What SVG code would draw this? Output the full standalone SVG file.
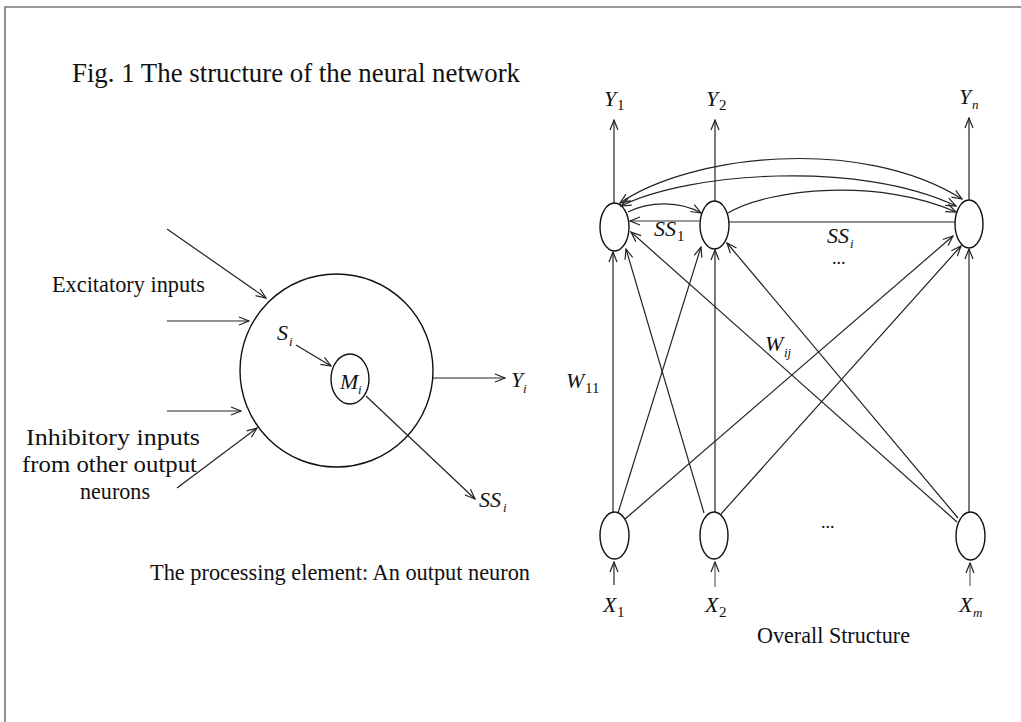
<svg xmlns="http://www.w3.org/2000/svg" width="1021" height="722" viewBox="0 0 1021 722">
<style>
.ln{stroke:#222;stroke-width:1.2;fill:none}
.gr{stroke:#777;stroke-width:1.4;fill:none}
.nd{stroke:#111;stroke-width:1.4;fill:#fff}
.t{font-family:"Liberation Serif","Times New Roman",serif;fill:#111}
.it{font-family:"Liberation Serif","Times New Roman",serif;font-style:italic;fill:#111;font-size:22px}
.si{font-family:"Liberation Serif","Times New Roman",serif;font-style:italic;fill:#111;font-size:13px}
.su{font-family:"Liberation Serif","Times New Roman",serif;font-style:normal;fill:#111;font-size:15px}
</style>
<defs>
<marker id="arr" viewBox="0 0 12 10" refX="11" refY="5" markerWidth="12" markerHeight="10" orient="auto-start-reverse" markerUnits="userSpaceOnUse">
<path d="M1,1 L11,5 L1,9" fill="none" stroke="#222" stroke-width="1.2"/>
</marker>
</defs>
<rect width="1021" height="722" fill="#fff"/>
<path d="M5,722 V7 H1021" fill="none" stroke="#777" stroke-width="1.6"/>

<text class="t" x="72" y="82" font-size="28" textLength="448" lengthAdjust="spacingAndGlyphs">Fig. 1 The structure of the neural network</text>

<!-- left: processing element -->
<g id="neuron-outer"><circle class="nd" cx="336.5" cy="370.5" r="96.5"/></g>
<g id="neuron-inner"><ellipse class="nd" cx="350" cy="379" rx="19" ry="25"/>
<text class="it" x="340" y="389">M</text><text class="si" x="358" y="394">i</text></g>
<g id="labels-left">
<text class="t" x="52" y="292" font-size="23" textLength="153" lengthAdjust="spacingAndGlyphs">Excitatory inputs</text>
<text class="t" x="26" y="445" font-size="23" textLength="174" lengthAdjust="spacingAndGlyphs">Inhibitory inputs</text>
<text class="t" x="22" y="472" font-size="23" textLength="175" lengthAdjust="spacingAndGlyphs">from other output</text>
<text class="t" x="80" y="499" font-size="23" textLength="70" lengthAdjust="spacingAndGlyphs">neurons</text>
<text class="it" x="277" y="340">S</text><text class="si" x="289" y="346">i</text>
<text class="it" x="511" y="387">Y</text><text class="si" x="523" y="393">i</text>
<text class="it" x="479" y="507">SS</text><text class="si" x="503" y="512">i</text>
<text class="t" x="150" y="580" font-size="23" textLength="380" lengthAdjust="spacingAndGlyphs">The processing element: An output neuron</text>
</g>

<!-- right: network nodes -->
<g id="N1"><ellipse class="nd" cx="614.5" cy="227" rx="14.5" ry="24"/></g>
<g id="N2"><ellipse class="nd" cx="714.5" cy="225" rx="14.5" ry="24"/></g>
<g id="Nn"><ellipse class="nd" cx="969" cy="224" rx="14" ry="24"/></g>
<g id="B1"><ellipse class="nd" cx="614.5" cy="535.5" rx="14.5" ry="23.5"/></g>
<g id="B2"><ellipse class="nd" cx="714" cy="535.5" rx="14" ry="23.5"/></g>
<g id="Bm"><ellipse class="nd" cx="970.5" cy="536" rx="14.5" ry="24"/></g>

<g id="labels-right">
<text class="it" x="604" y="106">Y</text><text class="su" x="617" y="110">1</text>
<text class="it" x="706" y="106">Y</text><text class="su" x="719" y="110">2</text>
<text class="it" x="959" y="104">Y</text><text class="si" x="972" y="109">n</text>
<text class="it" x="603" y="612">X</text><text class="su" x="617" y="617">1</text>
<text class="it" x="705" y="612">X</text><text class="su" x="719" y="617">2</text>
<text class="it" x="959" y="612">X</text><text class="si" x="973" y="617">m</text>
<text class="it" x="654" y="236">SS</text><text class="su" x="677" y="241">1</text>
<text class="it" x="827" y="243">SS</text><text class="si" x="850" y="248">i</text>
<text class="t" x="832" y="264" font-size="18">...</text>
<text class="t" x="821" y="528" font-size="18">...</text>
<text class="it" x="566" y="388">W</text><text class="su" x="585" y="393">11</text>
<text class="it" x="765" y="351">W</text><text class="si" x="784" y="357">ij</text>
<text class="t" x="757" y="643" font-size="23" textLength="153" lengthAdjust="spacingAndGlyphs">Overall Structure</text>
</g>

<g id="connectors">
<!-- left figure -->
<line class="ln" x1="167" y1="229" x2="266" y2="298" marker-end="url(#arr)"/>
<line class="ln" x1="167" y1="321" x2="249" y2="321" marker-end="url(#arr)"/>
<line class="ln" x1="167" y1="411" x2="241" y2="411" marker-end="url(#arr)"/>
<line class="ln" x1="177" y1="488" x2="257" y2="428" marker-end="url(#arr)"/>
<line class="ln" x1="296" y1="345" x2="331" y2="366" marker-end="url(#arr)"/>
<line class="ln" x1="433" y1="378" x2="505" y2="378" marker-end="url(#arr)"/>
<line class="ln" x1="366" y1="396" x2="475" y2="499" marker-end="url(#arr)"/>

<!-- outputs -->
<line class="ln" x1="614" y1="203" x2="614" y2="120" marker-end="url(#arr)"/>
<line class="ln" x1="715" y1="201" x2="715" y2="120" marker-end="url(#arr)"/>
<line class="ln" x1="969" y1="200" x2="969" y2="118" marker-end="url(#arr)"/>
<!-- inputs -->
<line class="ln" x1="614" y1="585" x2="614" y2="562" marker-end="url(#arr)"/>
<line class="gr" x1="715" y1="587" x2="715" y2="562" marker-end="url(#arr)"/>
<line class="gr" x1="970" y1="586" x2="970" y2="563" marker-end="url(#arr)"/>

<!-- weights bottom to top -->
<line class="ln" x1="613" y1="512" x2="613" y2="252" marker-end="url(#arr)"/>
<line class="ln" x1="618" y1="513" x2="701" y2="247" marker-end="url(#arr)"/>
<line class="ln" x1="625" y1="519" x2="953" y2="236" marker-end="url(#arr)"/>
<line class="ln" x1="704" y1="513" x2="626" y2="249" marker-end="url(#arr)"/>
<line class="ln" x1="715" y1="512" x2="715" y2="250" marker-end="url(#arr)"/>
<line class="ln" x1="721" y1="514" x2="961" y2="246" marker-end="url(#arr)"/>
<line class="ln" x1="957" y1="522" x2="631" y2="232" marker-end="url(#arr)"/>
<line class="ln" x1="958" y1="518" x2="727" y2="243" marker-end="url(#arr)"/>
<line class="ln" x1="969" y1="512" x2="969" y2="249" marker-end="url(#arr)"/>

<!-- lateral -->
<line class="gr" x1="700" y1="221" x2="630" y2="221" marker-end="url(#arr)"/>
<line class="ln" x1="729" y1="222" x2="955" y2="222"/>
<path class="ln" d="M628,212 C650,201 680,201 701,213" marker-end="url(#arr)"/>
<path class="ln" d="M620,203 C690,155 860,135 962,199" marker-start="url(#arr)" marker-end="url(#arr)"/>
<path class="ln" d="M621,206 C690,172 860,160 956,206" marker-start="url(#arr)" marker-end="url(#arr)"/>
<path class="ln" d="M728,213 C770,188 880,178 956,212" marker-end="url(#arr)"/>
</g>
</svg>
